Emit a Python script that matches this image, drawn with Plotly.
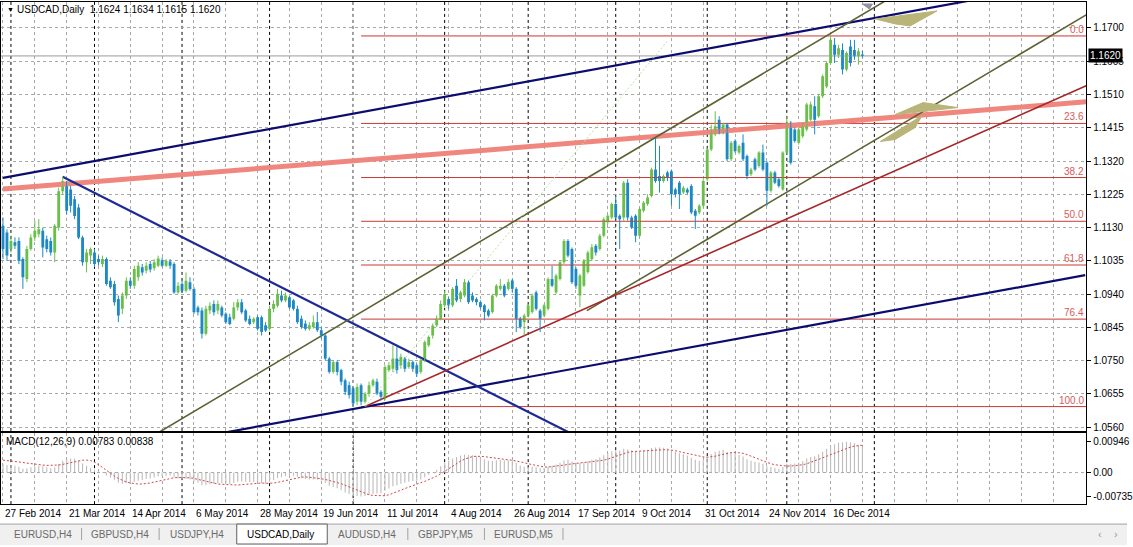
import pandas as pd
import plotly.graph_objects as go

# ---------------- data ----------------
first_date = "2014-02-27"
last_calendar_day = "2015-01-31"
holidays = ["2014-12-25", "2015-01-01"]

opens = [
    1.1135, 1.1116, 1.1069, 1.1088, 1.1092, 1.1040, 1.0983, 1.1069, 1.1102, 1.1111,
    1.1121, 1.1097, 1.1092, 1.1059, 1.1130, 1.1234, 1.1253, 1.1239, 1.1211, 1.1187,
    1.1102, 1.1031, 1.1050, 1.1059, 1.1040, 1.1026, 1.1040, 1.0978, 1.0969, 1.0926,
    1.0898, 1.0936, 1.0978, 1.0964, 1.0988, 1.1017, 1.1007, 1.1026, 1.1014, 1.1021,
    1.1037, 1.1021, 1.1033, 1.1026, 1.0945, 1.0969, 1.0950, 1.0974, 1.0955, 1.0902,
    1.0893, 1.0827, 1.0893, 1.0912, 1.0893, 1.0902, 1.0884, 1.0874, 1.0870, 1.0902,
    1.0917, 1.0893, 1.0870, 1.0860, 1.0874, 1.0874, 1.0851, 1.0841, 1.0898, 1.0907,
    1.0936, 1.0922, 1.0931, 1.0922, 1.0898, 1.0870, 1.0856, 1.0841, 1.0846, 1.0860,
    1.0837, 1.0822, 1.0756, 1.0718, 1.0746, 1.0723, 1.0694, 1.0680, 1.0671, 1.0633,
    1.0680, 1.0633, 1.0656, 1.0680, 1.0690, 1.0661, 1.0642, 1.0723, 1.0727, 1.0756,
    1.0737, 1.0756, 1.0732, 1.0746, 1.0737, 1.0718, 1.0751, 1.0794, 1.0822, 1.0851,
    1.0870, 1.0908, 1.0926, 1.0908, 1.0964, 1.0926, 1.0936, 1.0974, 1.0936, 1.0926,
    1.0917, 1.0908, 1.0893, 1.0889, 1.0936, 1.0955, 1.0964, 1.0955, 1.0979, 1.0955,
    1.0870, 1.0860, 1.0879, 1.0889, 1.0945, 1.0893, 1.0879, 1.0898, 1.0983, 1.0945,
    1.0983, 1.1031, 1.1092, 1.1069, 1.1012, 1.0936, 1.0964, 1.1003, 1.1040, 1.1078,
    1.1069, 1.1107, 1.1145, 1.1159, 1.1197, 1.1164, 1.1159, 1.1258, 1.1159, 1.1164,
    1.1107, 1.1178, 1.1197, 1.1220, 1.1296, 1.1277, 1.1263, 1.1287, 1.1291, 1.1239,
    1.1258, 1.1230, 1.1239, 1.1249, 1.1178, 1.1173, 1.1192, 1.1268, 1.1353, 1.1396,
    1.1438, 1.1400, 1.1424, 1.1325, 1.1377, 1.1344, 1.1372, 1.1334, 1.1282, 1.1325,
    1.1306, 1.1344, 1.1315, 1.1235, 1.1287, 1.1268, 1.1239, 1.1344, 1.1429, 1.1410,
    1.1372, 1.1391, 1.1410, 1.1438, 1.1476, 1.1448, 1.1505, 1.1533, 1.1600, 1.1652,
    1.1623, 1.1637, 1.1581, 1.1647, 1.1637, 1.1619, 1.1624]

highs = [
    1.1159, 1.1125, 1.1107, 1.1102, 1.1102, 1.1045, 1.1078, 1.1111, 1.1149, 1.1154,
    1.1130, 1.1107, 1.1102, 1.1140, 1.1244, 1.1276, 1.1263, 1.1249, 1.1220, 1.1197,
    1.1107, 1.1069, 1.1073, 1.1069, 1.1050, 1.1050, 1.1045, 1.0988, 1.0978, 1.0936,
    1.0945, 1.0988, 1.0988, 1.1021, 1.1031, 1.1026, 1.1031, 1.1035, 1.1040, 1.1050,
    1.1045, 1.1040, 1.1040, 1.1031, 1.0974, 1.0978, 1.1002, 1.0988, 1.0960, 1.0907,
    1.0902, 1.0907, 1.0917, 1.0922, 1.0922, 1.0907, 1.0888, 1.0884, 1.0917, 1.0926,
    1.0926, 1.0898, 1.0879, 1.0874, 1.0879, 1.0879, 1.0860, 1.0907, 1.0922, 1.0955,
    1.0950, 1.0945, 1.0936, 1.0926, 1.0907, 1.0879, 1.0865, 1.0860, 1.0879, 1.0889,
    1.0846, 1.0827, 1.0761, 1.0751, 1.0751, 1.0727, 1.0699, 1.0690, 1.0675, 1.0685,
    1.0685, 1.0661, 1.0690, 1.0699, 1.0699, 1.0666, 1.0737, 1.0746, 1.0794, 1.0789,
    1.0770, 1.0761, 1.0756, 1.0751, 1.0742, 1.0756, 1.0808, 1.0822, 1.0856, 1.0879,
    1.0922, 1.0950, 1.0931, 1.0960, 1.0983, 1.0950, 1.0983, 1.0979, 1.0945, 1.0931,
    1.0922, 1.0912, 1.0898, 1.0941, 1.0969, 1.0983, 1.0969, 1.0983, 1.0983, 1.0960,
    1.0875, 1.0884, 1.0912, 1.0941, 1.0950, 1.0898, 1.0912, 1.0988, 1.1021, 1.0998,
    1.1036, 1.1097, 1.1097, 1.1073, 1.1017, 1.0998, 1.1040, 1.1064, 1.1083, 1.1083,
    1.1112, 1.1159, 1.1168, 1.1201, 1.1220, 1.1168, 1.1263, 1.1268, 1.1164, 1.1168,
    1.1187, 1.1206, 1.1225, 1.1301, 1.1386, 1.1363, 1.1282, 1.1292, 1.1296, 1.1244,
    1.1263, 1.1249, 1.1244, 1.1254, 1.1183, 1.1197, 1.1268, 1.1358, 1.1424, 1.1462,
    1.1448, 1.1429, 1.1429, 1.1377, 1.1382, 1.1367, 1.1396, 1.1339, 1.1301, 1.1330,
    1.1348, 1.1367, 1.1320, 1.1292, 1.1292, 1.1272, 1.1348, 1.1448, 1.1434, 1.1415,
    1.1415, 1.1429, 1.1486, 1.1490, 1.1505, 1.1510, 1.1567, 1.1605, 1.1677, 1.1671,
    1.1652, 1.1656, 1.1633, 1.1666, 1.1666, 1.1642, 1.1634]

lows = [
    1.1040, 1.1035, 1.1059, 1.1069, 1.1026, 1.0955, 1.0974, 1.1064, 1.1092, 1.1102,
    1.1045, 1.1059, 1.1050, 1.1031, 1.1121, 1.1225, 1.1168, 1.1173, 1.1154, 1.1097,
    1.1021, 1.1002, 1.1026, 1.1017, 1.1021, 1.1017, 1.0964, 1.0955, 1.0907, 1.0860,
    1.0883, 1.0926, 1.0955, 1.0955, 1.0978, 1.0993, 1.0999, 1.1002, 1.1007, 1.1017,
    1.1017, 1.1017, 1.1012, 1.0941, 1.0941, 1.0945, 1.0945, 1.0950, 1.0883, 1.0879,
    1.0813, 1.0822, 1.0883, 1.0879, 1.0883, 1.0874, 1.0855, 1.0851, 1.0865, 1.0893,
    1.0883, 1.0860, 1.0851, 1.0855, 1.0836, 1.0822, 1.0832, 1.0836, 1.0888, 1.0902,
    1.0917, 1.0917, 1.0898, 1.0893, 1.0855, 1.0841, 1.0836, 1.0836, 1.0841, 1.0832,
    1.0813, 1.0751, 1.0713, 1.0713, 1.0708, 1.0680, 1.0652, 1.0642, 1.0620, 1.0623,
    1.0623, 1.0628, 1.0647, 1.0675, 1.0652, 1.0637, 1.0637, 1.0718, 1.0718, 1.0713,
    1.0727, 1.0718, 1.0727, 1.0718, 1.0704, 1.0713, 1.0746, 1.0789, 1.0813, 1.0846,
    1.0865, 1.0903, 1.0898, 1.0903, 1.0917, 1.0917, 1.0931, 1.0912, 1.0917, 1.0908,
    1.0898, 1.0865, 1.0874, 1.0884, 1.0931, 1.0950, 1.0931, 1.0950, 1.0945, 1.0832,
    1.0841, 1.0822, 1.0874, 1.0884, 1.0893, 1.0832, 1.0874, 1.0893, 1.0960, 1.0940,
    1.0979, 1.1026, 1.1045, 1.0969, 1.0955, 1.0903, 1.0960, 1.0998, 1.1035, 1.1050,
    1.1064, 1.1102, 1.1140, 1.1154, 1.1154, 1.1069, 1.1150, 1.1150, 1.1126, 1.1088,
    1.1102, 1.1173, 1.1192, 1.1216, 1.1258, 1.1230, 1.1258, 1.1263, 1.1192, 1.1216,
    1.1183, 1.1225, 1.1225, 1.1168, 1.1126, 1.1168, 1.1187, 1.1263, 1.1348, 1.1391,
    1.1396, 1.1396, 1.1320, 1.1320, 1.1344, 1.1339, 1.1320, 1.1268, 1.1277, 1.1291,
    1.1301, 1.1291, 1.1192, 1.1230, 1.1254, 1.1244, 1.1235, 1.1339, 1.1310, 1.1372,
    1.1367, 1.1386, 1.1405, 1.1434, 1.1396, 1.1443, 1.1500, 1.1528, 1.1595, 1.1600,
    1.1614, 1.1567, 1.1576, 1.1590, 1.1609, 1.1595, 1.1615]

closes = [
    1.1069, 1.1050, 1.1092, 1.1078, 1.1035, 1.0988, 1.1069, 1.1102, 1.1121, 1.1125,
    1.1073, 1.1069, 1.1059, 1.1135, 1.1234, 1.1263, 1.1178, 1.1192, 1.1163, 1.1102,
    1.1031, 1.1059, 1.1069, 1.1026, 1.1031, 1.1040, 1.0969, 1.0960, 1.0917, 1.0879,
    1.0936, 1.0978, 1.0964, 1.1012, 1.1021, 1.1002, 1.1021, 1.1010, 1.1031, 1.1042,
    1.1021, 1.1035, 1.1021, 1.0945, 1.0964, 1.0950, 1.0978, 1.0955, 1.0888, 1.0888,
    1.0827, 1.0898, 1.0907, 1.0888, 1.0912, 1.0879, 1.0860, 1.0855, 1.0902, 1.0917,
    1.0888, 1.0865, 1.0855, 1.0870, 1.0841, 1.0832, 1.0836, 1.0898, 1.0912, 1.0941,
    1.0922, 1.0936, 1.0902, 1.0898, 1.0860, 1.0846, 1.0841, 1.0851, 1.0860, 1.0837,
    1.0822, 1.0756, 1.0718, 1.0746, 1.0718, 1.0690, 1.0661, 1.0652, 1.0628, 1.0675,
    1.0633, 1.0656, 1.0680, 1.0694, 1.0656, 1.0647, 1.0732, 1.0737, 1.0756, 1.0723,
    1.0761, 1.0727, 1.0746, 1.0727, 1.0713, 1.0751, 1.0803, 1.0818, 1.0850, 1.0870,
    1.0912, 1.0940, 1.0908, 1.0955, 1.0922, 1.0945, 1.0974, 1.0917, 1.0922, 1.0917,
    1.0903, 1.0889, 1.0879, 1.0936, 1.0964, 1.0964, 1.0936, 1.0974, 1.0955, 1.0870,
    1.0846, 1.0879, 1.0908, 1.0936, 1.0898, 1.0870, 1.0908, 1.0983, 1.0964, 1.0993,
    1.1031, 1.1092, 1.1050, 1.0974, 1.0964, 1.0993, 1.1036, 1.1059, 1.1074, 1.1059,
    1.1107, 1.1154, 1.1164, 1.1197, 1.1159, 1.1154, 1.1258, 1.1159, 1.1130, 1.1107,
    1.1183, 1.1201, 1.1216, 1.1296, 1.1263, 1.1263, 1.1277, 1.1272, 1.1225, 1.1225,
    1.1225, 1.1244, 1.1230, 1.1173, 1.1164, 1.1192, 1.1263, 1.1353, 1.1410, 1.1419,
    1.1400, 1.1424, 1.1325, 1.1372, 1.1348, 1.1363, 1.1325, 1.1277, 1.1296, 1.1296,
    1.1344, 1.1296, 1.1235, 1.1287, 1.1258, 1.1249, 1.1344, 1.1429, 1.1315, 1.1377,
    1.1410, 1.1424, 1.1481, 1.1481, 1.1438, 1.1505, 1.1562, 1.1600, 1.1666, 1.1623,
    1.1642, 1.1581, 1.1628, 1.1600, 1.1619, 1.1633, 1.1620]

# MACD(12,26,9) in thousandths
macd_main = [
    2.6, 2.3, 2.2, 2.1, 1.8, 1.2, 1.3, 1.6, 1.9, 2.1,
    1.9, 1.6, 1.3, 1.6, 2.6, 3.6, 3.9, 4.3, 4.2, 3.7,
    2.8, 2.1, 1.5, 0.9, 0.4, -0.1, -0.9, -1.5, -2.2, -3.1,
    -3.4, -3.3, -3.2, -2.9, -2.5, -2.3, -2.0, -1.8, -1.5, -1.2,
    -1.1, -1.0, -0.9, -1.5, -1.8, -2.0, -2.0, -2.1, -2.7, -3.1,
    -3.9, -3.8, -3.6, -3.5, -3.3, -3.3, -3.4, -3.5, -3.2, -2.8,
    -2.7, -2.8, -2.9, -2.9, -3.1, -3.3, -3.4, -2.8, -2.3, -1.7,
    -1.4, -1.1, -1.0, -1.0, -1.3, -1.7, -2.0, -2.1, -2.1, -2.2,
    -2.4, -3.2, -4.0, -4.4, -4.8, -5.4, -6.1, -6.6, -7.2, -7.2,
    -7.35, -7.2, -6.9, -6.5, -6.4, -6.3, -5.6, -4.9, -4.2, -3.9,
    -3.4, -3.1, -2.8, -2.6, -2.5, -2.1, -1.4, -0.7, 0.1, 0.9,
    1.9, 3.0, 3.6, 4.3, 4.8, 5.2, 5.5, 5.4, 5.3, 5.0,
    4.6, 4.1, 3.6, 3.6, 3.8, 3.9, 3.7, 3.8, 3.8, 3.0,
    2.2, 1.8, 1.7, 1.8, 1.6, 1.3, 1.3, 1.8, 2.1, 2.5,
    3.0, 3.7, 3.9, 3.4, 3.0, 2.9, 3.1, 3.5, 3.9, 4.1,
    4.6, 5.3, 5.9, 6.5, 6.8, 6.7, 7.3, 7.1, 6.8, 6.4,
    6.5, 6.8, 7.0, 7.5, 7.7, 7.7, 7.6, 7.4, 6.9, 6.4,
    5.9, 5.6, 5.2, 4.5, 3.9, 3.6, 3.9, 4.7, 5.7, 6.4,
    6.7, 6.9, 6.3, 6.0, 5.7, 5.4, 4.9, 4.1, 3.6, 3.3,
    3.1, 2.7, 1.9, 1.7, 1.4, 1.2, 1.7, 2.7, 2.6, 2.8,
    3.1, 3.5, 4.3, 4.8, 5.0, 5.6, 6.4, 7.3, 8.2, 8.7,
    9.1, 9.3, 9.46, 9.3, 9.0, 8.5, 7.83]

macd_signal = [
    3.8, 3.7, 3.6, 3.5, 3.3, 3.1, 2.9, 2.7, 2.5, 2.4,
    2.3, 2.2, 2.2, 2.2, 2.3, 2.5, 2.8, 3.1, 3.4, 3.6,
    3.8, 3.8, 3.7, 3.2, 2.5, 1.6, 0.7, -0.3, -1.1, -1.8,
    -2.4, -2.9, -3.2, -3.4, -3.5, -3.5, -3.4, -3.2, -2.9, -2.6,
    -2.3, -2.0, -1.7, -1.6, -1.5, -1.5, -1.5, -1.6, -1.8, -2.1,
    -2.4, -2.7, -3.0, -3.3, -3.5, -3.6, -3.7, -3.8, -3.8, -3.8,
    -3.7, -3.6, -3.5, -3.3, -3.2, -3.2, -3.3, -3.3, -3.2, -3.0,
    -2.7, -2.4, -2.1, -1.8, -1.5, -1.4, -1.3, -1.4, -1.5, -1.7,
    -1.9, -2.1, -2.4, -2.7, -3.0, -3.4, -3.9, -4.4, -5.0, -5.5,
    -6.0, -6.4, -6.8, -7.0, -7.1, -7.2, -7.1, -6.8, -6.4, -5.9,
    -5.4, -4.9, -4.4, -4.0, -3.6, -3.1, -2.7, -2.2, -1.7, -1.1,
    -0.4, 0.4, 1.2, 2.0, 2.8, 3.5, 4.1, 4.6, 4.9, 5.0,
    5.0, 4.9, 4.7, 4.5, 4.3, 4.1, 4.0, 3.9, 3.8, 3.6,
    3.3, 3.0, 2.7, 2.4, 2.1, 1.9, 1.7, 1.7, 1.8, 1.9,
    2.1, 2.3, 2.5, 2.7, 2.9, 3.0, 3.1, 3.2, 3.3, 3.4,
    3.6, 3.8, 4.1, 4.5, 5.0, 5.5, 5.9, 6.2, 6.4, 6.5,
    6.6, 6.7, 6.7, 6.8, 6.9, 7.0, 7.0, 7.0, 6.9, 6.7,
    6.4, 6.1, 5.8, 5.5, 5.2, 5.0, 4.8, 4.7, 4.8, 5.0,
    5.3, 5.6, 5.9, 6.1, 6.2, 6.1, 5.9, 5.5, 5.1, 4.6,
    4.1, 3.6, 3.1, 2.7, 2.4, 2.2, 2.1, 2.0, 2.0, 2.1,
    2.2, 2.4, 2.7, 3.1, 3.5, 4.0, 4.5, 5.0, 5.5, 6.0,
    6.5, 7.0, 7.4, 7.8, 8.1, 8.3, 8.38]

price_ticks = [1.0560, 1.0655, 1.0750, 1.0845, 1.0940, 1.1035, 1.1130,
               1.1225, 1.1320, 1.1415, 1.1510, 1.1605, 1.1700]
macd_ticks = [9.46, 0.0, -7.35]
macd_tick_text = ["0.00946", "0.00", "-0.00735"]
current_price = 1.1620
title_text = "USDCAD,Daily\u00a0 1.1624 1.1634 1.1615 1.1620"
macd_title = "MACD(12,26,9) 0.00783 0.00838"

# drawn objects: (bar index, price) anchors
navy_upper_x, navy_upper_y = [0, 272], [1.12721, 1.18384]
navy_lower_x, navy_lower_y = [0, 272], [1.04291, 1.09941]
salmon_x, salmon_y = [0, 272.25], [1.12400, 1.14892]
navy_down_x, navy_down_y = [15, 160], [1.12748, 1.04435]
olive_upper_x, olive_upper_y = [30, 230], [1.04835, 1.18327]
olive_lower_x, olive_lower_y = [146.75, 272.25], [1.0893, 1.1737]
red_x, red_y = [91, 272.25], [1.0619, 1.1535]
dotted_x, dotted_y = [91, 167.25], [1.0619, 1.16659]
fib_start, fib_high, fib_low = 90, 1.1677, 1.0619
fib_levels = [0.0, 23.6, 38.2, 50.0, 61.8, 76.4, 100.0]
khaki1_x, khaki1_y = [219.25, 234.75, 228.0, 224.25], [1.17256, 1.17484, 1.17057, 1.17114]
khaki2_x, khaki2_y = [224.25, 231.25, 240.0, 231.75], [1.14526, 1.14867, 1.14725, 1.14611]
khaki3_x, khaki3_y = [220.5, 231.0, 229.25, 224.25], [1.13758, 1.14497, 1.14156, 1.13815]
marker_x, marker_y = [216.0, 218.5, 217.75], [1.17682, 1.17682, 1.17540]

tab_names = ["EURUSD,H4", "GBPUSD,H4", "USDJPY,H4", "USDCAD,Daily",
             "AUDUSD,H4", "GBPJPY,M5", "EURUSD,M5"]
active_tab = "USDCAD,Daily"

# ---------------- derived ----------------
n = len(closes)
idx = list(range(n))
days = pd.bdate_range(first_date, last_calendar_day)
days = days[~days.isin(pd.to_datetime(holidays))]
bar_dates = days[:n]

W, H = 1133, 547
def fx(px):
    return px / W
def fy(py):
    return 1 - py / H

FONT = "Liberation Sans, Arial, sans-serif"
GRID = "#a8a8a8"
UP, DOWN = "#6abf4b", "#1f88c6"

fig = go.Figure()

def line(x, y, color, width, dash="solid", axis=("x", "y")):
    fig.add_trace(go.Scatter(x=x, y=y, mode="lines", xaxis=axis[0], yaxis=axis[1],
                             line=dict(color=color, width=width, dash=dash),
                             hoverinfo="skip"))

# current price line and fibonacci levels
line([-0.5, 272.25], [current_price, current_price], "#9a9a9a", 1)
fib_prices = [fib_high - lv / 100.0 * (fib_high - fib_low) for lv in fib_levels]
for p in fib_prices:
    line([fib_start, 272.25], [p, p], "#c83a32", 1)

# trend lines
line(salmon_x, salmon_y, "#f0877e", 5)
line(navy_upper_x, navy_upper_y, "#0c0c70", 2.2)
line(navy_lower_x, navy_lower_y, "#0c0c70", 2.2)
line(navy_down_x, navy_down_y, "#1e2a94", 2.2)
line(olive_upper_x, olive_upper_y, "#5d6132", 1.6)
line(olive_lower_x, olive_lower_y, "#5d6132", 1.6)
line(red_x, red_y, "#a5282a", 1.6)
line(dotted_x, dotted_y, "#b9e3a6", 1, dash="2px,2px")

for kx, ky, col in [(khaki1_x, khaki1_y, "#b9b477"), (khaki2_x, khaki2_y, "#b9b477"),
                    (khaki3_x, khaki3_y, "#b9b477"), (marker_x, marker_y, "#8e94a6")]:
    fig.add_trace(go.Scatter(x=kx + [kx[0]], y=ky + [ky[0]], mode="lines", fill="toself",
                             fillcolor=col, line=dict(color=col, width=1), hoverinfo="skip"))

# candles
for is_up, col in [(True, UP), (False, DOWN)]:
    sel = [i for i in idx if (closes[i] >= opens[i]) == is_up]
    wx, wy = [], []
    for i in sel:
        wx += [i, i, None]
        wy += [lows[i], highs[i], None]
    fig.add_trace(go.Scatter(x=wx, y=wy, mode="lines", line=dict(color=col, width=1),
                             hoverinfo="skip"))
    fig.add_trace(go.Bar(x=sel, base=[min(opens[i], closes[i]) for i in sel],
                         y=[max(abs(closes[i] - opens[i]), 0.00008) for i in sel],
                         width=0.72, marker=dict(color=col, line=dict(width=0)),
                         hoverinfo="skip"))

# MACD
fig.add_trace(go.Bar(x=idx, y=macd_main, width=0.28, xaxis="x2", yaxis="y2",
                     marker=dict(color="#bdbdbd", line=dict(width=0)), hoverinfo="skip"))
line(idx, macd_signal, "#cc4a4a", 1, dash="2px,2px", axis=("x2", "y2"))

# ---------------- layout ----------------
xcommon = dict(range=[-0.5, 272.25], domain=[fx(1), fx(1092)], tickmode="linear",
               tick0=0, dtick=8, showticklabels=False, ticks="", showgrid=True,
               gridcolor=GRID, griddash="3px,3px", gridwidth=1, zeroline=False,
               showline=True, linecolor="black", linewidth=1, mirror=True)

fig.update_layout(
    width=W, height=H, autosize=False, margin=dict(l=0, r=0, t=0, b=0),
    paper_bgcolor="white", plot_bgcolor="white", showlegend=False, barmode="overlay",
    font=dict(family=FONT, size=10, color="black"),
    xaxis=dict(anchor="y", **xcommon),
    xaxis2=dict(anchor="y2", matches="x", **xcommon),
    yaxis=dict(domain=[fy(432.5), fy(2)], range=[1.054955, 1.177395], anchor="x",
               side="right", tickmode="array", tickvals=price_ticks,
               ticktext=[f"{v:.4f}" for v in price_ticks], ticks="outside", ticklen=4,
               tickcolor="black", showgrid=True, gridcolor=GRID, griddash="3px,3px",
               zeroline=False, showline=True, linecolor="black", linewidth=1, mirror=True),
    yaxis2=dict(domain=[fy(506), fy(435)], range=[-9.67, 11.99], anchor="x2",
                side="right", tickmode="array", tickvals=macd_ticks, ticktext=macd_tick_text,
                ticks="outside", ticklen=4, tickcolor="black", showgrid=False,
                zeroline=False, showline=True, linecolor="black", linewidth=1, mirror=True),
)

shapes = []
# MACD zero line
shapes.append(dict(type="line", xref="x2 domain", yref="y2", x0=0, x1=1, y0=0, y1=0,
                   line=dict(color=GRID, width=1, dash="3px,3px")))
# monthly period separators
for k in range(1, len(days)):
    if days[k].month != days[k - 1].month and k <= n + 3:
        for yr in ["y domain", "y2 domain"]:
            shapes.append(dict(type="line", xref="x", yref=yr, x0=k, x1=k, y0=0, y1=1,
                               line=dict(color="black", width=1, dash="3px,3px"),
                               layer="below"))
# tab bar
shapes.append(dict(type="rect", xref="paper", yref="paper", x0=0, x1=1, y0=0, y1=fy(526),
                   fillcolor="#f0f0f0", line=dict(width=0)))
shapes.append(dict(type="line", xref="paper", yref="paper", x0=0, x1=1, y0=fy(526),
                   y1=fy(526), line=dict(color="#a0a0a0", width=1)))
shapes.append(dict(type="rect", xref="paper", yref="paper", x0=fx(238), x1=fx(329),
                   y0=fy(546), y1=fy(526), fillcolor="white",
                   line=dict(color="#606060", width=1)))
for sx in [82, 160, 410, 487, 566]:
    shapes.append(dict(type="line", xref="paper", yref="paper", x0=fx(sx), x1=fx(sx),
                       y0=fy(542), y1=fy(530), line=dict(color="#a0a0a0", width=1)))
fig.update_layout(shapes=shapes)

ann = []
ann.append(dict(text="\u25bc", x=fx(5), y=fy(10), xref="paper", yref="paper",
                xanchor="left", yanchor="middle", showarrow=False, font=dict(size=7)))
ann.append(dict(text=title_text, x=fx(15), y=fy(10), xref="paper", yref="paper",
                xanchor="left", yanchor="middle", showarrow=False, font=dict(size=10)))
ann.append(dict(text=macd_title, x=fx(4), y=fy(443), xref="paper", yref="paper",
                xanchor="left", yanchor="middle", showarrow=False, font=dict(size=10)))
for lv, p in zip(fib_levels, fib_prices):
    ann.append(dict(text=f"{lv:.1f}", x=fx(1091), y=p, xref="paper", yref="y",
                    xanchor="right", yanchor="bottom", showarrow=False,
                    font=dict(size=10, color="#d85a5a"), borderpad=0))
ann.append(dict(text=f"{current_price:.4f}", x=fx(1094), y=current_price, xref="paper",
                yref="y", xanchor="left", yanchor="middle", showarrow=False,
                bgcolor="black", font=dict(size=10, color="white"), borderpad=1))
for i in range(0, n, 16):
    d = bar_dates[i]
    ann.append(dict(text=f"{d.day} {d.strftime('%b %Y')}", x=i, y=fy(515), xref="x",
                    yref="paper", xanchor="left", yanchor="middle", showarrow=False,
                    font=dict(size=10)))
tab_centers = [43, 121, 198, 282, 369, 448, 526]
for name, cx in zip(tab_names, tab_centers):
    ann.append(dict(text=name, x=fx(cx), y=fy(536), xref="paper", yref="paper",
                    xanchor="center", yanchor="middle", showarrow=False,
                    font=dict(size=10, color="black" if name == active_tab else "#6a6a6a")))
for t, ax in [("\u2039", 1106), ("\u203a", 1122)]:
    ann.append(dict(text=t, x=fx(ax), y=fy(536), xref="paper", yref="paper",
                    xanchor="center", yanchor="middle", showarrow=False,
                    font=dict(size=11, color="#9a9a9a")))
fig.update_layout(annotations=ann)

fig.write_html("out.html", config={"staticPlot": True},
               post_script="document.body.style.margin='0px';document.body.style.overflow='hidden';")
